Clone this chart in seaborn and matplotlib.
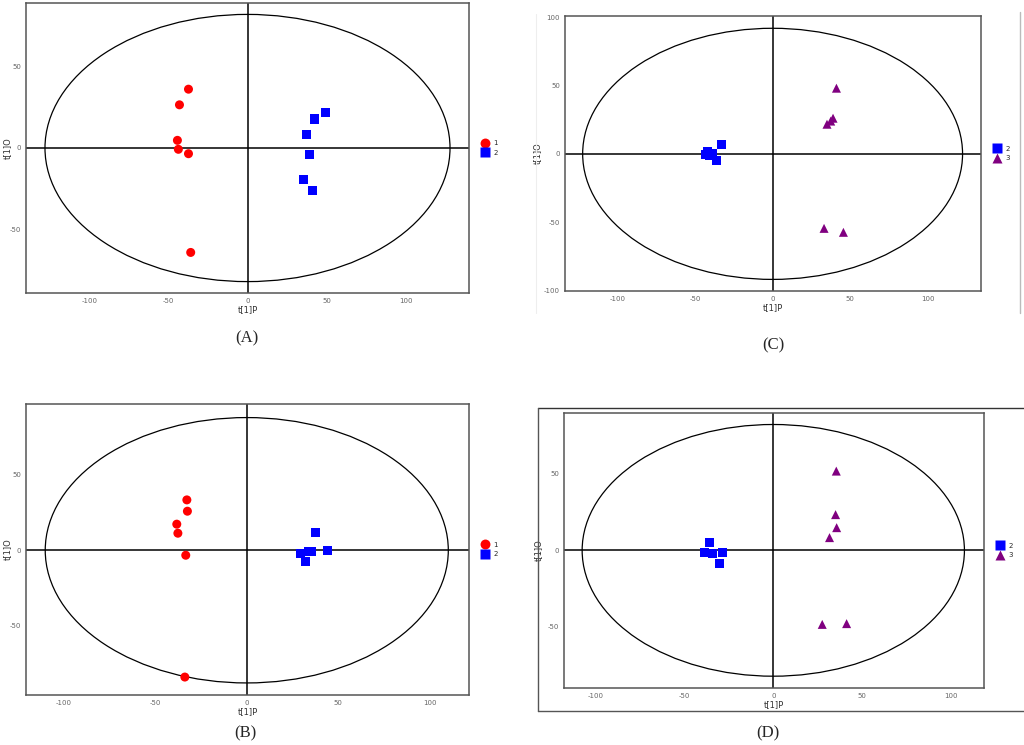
import numpy as np
import pandas as pd
import matplotlib
matplotlib.use("Agg")
import matplotlib.pyplot as plt
from matplotlib.patches import Ellipse
from matplotlib.lines import Line2D
import seaborn as sns

# score values (t[1]P, t[1]O)
a_group = ["1"] * 6 + ["2"] * 6
a_t1p = [-37.3, -43.0, -44.3, -43.7, -37.3, -35.9, 49.6, 42.6, 37.3, 39.0, 35.7, 41.1]
a_t1o = [36.1, 26.5, 4.7, -0.8, -3.5, -64.1, 22.0, 17.8, 8.4, -3.7, -19.2, -26.3]

b_group = ["1"] * 6 + ["2"] * 6
b_t1p = [-32.7, -32.4, -38.2, -37.6, -33.3, -33.8, 37.3, 29.1, 33.6, 35.5, 44.0, 31.8]
b_t1o = [33.4, 25.9, 17.3, 11.3, -3.3, -84.1, 12.0, -2.0, -0.9, -0.9, -0.3, -7.5]

c_group = ["2"] * 6 + ["3"] * 6
c_t1p = [-33.0, -42.2, -39.0, -36.2, -43.3, -40.5, 41.2, 39.0, 35.1, 37.5, 33.2, 45.7]
c_t1o = [6.6, 1.7, 0.0, -4.9, -0.7, -1.5, 48.1, 26.1, 21.7, 24.0, -54.6, -57.5]

d_group = ["2"] * 5 + ["3"] * 6
d_t1p = [-36.0, -38.4, -33.9, -28.8, -30.0, 35.4, 35.0, 35.6, 31.6, 27.5, 41.2]
d_t1o = [5.2, -1.1, -2.2, -1.1, -8.3, 51.7, 23.3, 14.8, 8.3, -48.3, -47.8]

palette = {"1": "#FF0000", "2": "#0000FF", "3": "#800080"}
markers = {"1": "o", "2": "s", "3": "^"}

sns.set_style("white")
plt.rcParams["font.family"] = ["DejaVu Sans"]
plt.rcParams["axes.unicode_minus"] = False

W, H = 1024, 745
fig = plt.figure(figsize=(W / 100, H / 100), dpi=100)


def px_axes(left, top, right, bottom):
    return fig.add_axes([left / W, 1 - bottom / H, (right - left) / W, (bottom - top) / H])


def score_panel(ax, groups, t1p, t1o, xlim, ylim, ell, yticks, ylab_x):
    df = pd.DataFrame({"t1p": t1p, "t1o": t1o, "group": groups})
    ax.axhline(0, color="black", lw=1.1, zorder=1)
    ax.axvline(0, color="black", lw=1.1, zorder=1)
    ax.add_patch(Ellipse((0, 0), 2 * ell[0], 2 * ell[1], fill=False,
                         edgecolor="black", lw=0.9, zorder=1))
    sns.scatterplot(data=df, x="t1p", y="t1o", hue="group", style="group",
                    palette=palette, markers=markers, s=42, edgecolor="none",
                    ax=ax, zorder=3)
    ax.set_xlim(*xlim)
    ax.set_ylim(*ylim)
    ax.set_xticks([-100, -50, 0, 50, 100])
    ax.set_yticks(yticks)
    ax.tick_params(axis="both", labelsize=5, colors="#666666", length=2, width=0.6,
                   direction="out", pad=1.5)
    ax.set_xlabel("t[1]P", fontsize=6, labelpad=1, color="#333333")
    ax.set_ylabel("t[1]O", fontsize=6, color="#333333")
    ax.yaxis.set_label_coords(ylab_x, 0.5)
    for sp in ax.spines.values():
        sp.set_color("#555555")
        sp.set_linewidth(1.1)
    sns.move_legend(ax, "center left", bbox_to_anchor=(1.01, 0.5), frameon=False,
                    title=None, fontsize=5, handletextpad=0.2, labelspacing=0.5,
                    borderaxespad=0.3, markerscale=1.1)


ax_a = px_axes(26, 3, 469, 293)
score_panel(ax_a, a_group, a_t1p, a_t1o, (-140, 140), (-89, 89), (128, 82),
            [-50, 0, 50], -0.032)

ax_c = px_axes(565, 16, 981, 291)
score_panel(ax_c, c_group, c_t1p, c_t1o, (-134, 134.5), (-100.5, 101), (122.6, 92),
            [-100, -50, 0, 50, 100], -0.055)

ax_b = px_axes(26, 404, 469, 695)
score_panel(ax_b, b_group, b_t1p, b_t1o, (-120.5, 121.3), (-96, 97), (110, 88),
            [-50, 0, 50], -0.032)

ax_d = px_axes(564, 413, 984, 688)
score_panel(ax_d, d_group, d_t1p, d_t1o, (-117.6, 118.4), (-89.8, 89.6), (107.4, 82.1),
            [-50, 0, 50], -0.05)

# panel captions
for lab, x, y in [("(A)", 247, 338), ("(C)", 773, 345), ("(B)", 245, 733), ("(D)", 768, 733)]:
    fig.text(x / W, 1 - y / H, lab, ha="center", va="center", fontsize=12,
             family=["Liberation Serif", "DejaVu Serif"])

# frame around panel D and thin border lines near panel C
def fig_line(x0, y0, x1, y1, color, lw):
    fig.add_artist(Line2D([x0 / W, x1 / W], [1 - y0 / H, 1 - y1 / H],
                          transform=fig.transFigure, color=color, lw=lw))

fig_line(538, 408, 1024, 408, "#333333", 1.0)
fig_line(538, 408, 538, 711, "#555555", 1.0)
fig_line(538, 711, 1024, 711, "#555555", 1.0)
fig_line(1020, 12, 1020, 313, "#bbbbbb", 1.0)
fig_line(536, 14, 536, 313, "#eeeeee", 0.8)

fig.savefig("out.png", dpi=100)
